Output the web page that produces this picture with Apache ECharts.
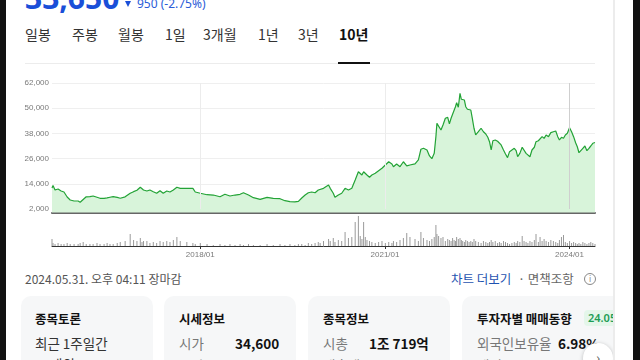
<!DOCTYPE html>
<html><head><meta charset="utf-8">
<script src="https://cdn.jsdelivr.net/npm/echarts@6/dist/echarts.min.js"></script>
<style>
html,body{margin:0;padding:0;width:640px;height:360px;overflow:hidden;background:#fff;font-family:"Noto Sans CJK KR","Noto Sans",sans-serif;}
.a{position:absolute;white-space:nowrap;}
#chart{position:absolute;left:0;top:0;width:640px;height:360px;}
#clip{position:absolute;left:0;top:0;width:613px;height:360px;overflow:hidden;}
.card{position:absolute;top:296px;height:90px;background:#f6f7f8;border-radius:10px;}
.t{font-size:12.5px;font-weight:700;color:#111;line-height:13px;}
.r{font-size:13.5px;line-height:14px;}
.g{color:#777;}
.b{font-weight:700;color:#111;}
</style></head><body>
<div id="clip">
  <div class="a" style="left:25px;top:-17px;font-family:'Noto Sans';font-weight:700;font-size:30px;line-height:30px;color:#1a4fd8;">33,650</div>
  <div class="a" style="left:125px;top:1px;width:0;height:0;border-left:3.5px solid transparent;border-right:3.5px solid transparent;border-top:6px solid #1a4fd8;"></div>
  <div class="a" style="left:137px;top:-2px;font-family:'Noto Sans';font-size:12px;line-height:12px;color:#2a5cd8;">950 (-2.75%)</div>

  <div class="a" style="left:25px;top:27px;font-size:14px;line-height:14px;color:#333;">일봉</div>
  <div class="a" style="left:72px;top:27px;font-size:14px;line-height:14px;color:#333;">주봉</div>
  <div class="a" style="left:118px;top:27px;font-size:14px;line-height:14px;color:#333;">월봉</div>
  <div class="a" style="left:165px;top:27px;font-size:14px;line-height:14px;color:#333;">1일</div>
  <div class="a" style="left:203px;top:27px;font-size:14px;line-height:14px;color:#333;">3개월</div>
  <div class="a" style="left:258px;top:27px;font-size:14px;line-height:14px;color:#333;">1년</div>
  <div class="a" style="left:298px;top:27px;font-size:14px;line-height:14px;color:#333;">3년</div>
  <div class="a" style="left:339px;top:27px;font-size:14px;line-height:14px;color:#111;font-weight:700;">10년</div>
  <div class="a" style="left:25px;top:63px;width:570px;height:1px;background:#ececec;"></div>
  <div class="a" style="left:338px;top:62px;width:32px;height:2px;background:#111;"></div>

  <div class="a" style="left:25px;top:273px;font-size:12px;line-height:12px;color:#555;">2024.05.31. 오후 04:11 장마감</div>
  <div class="a" style="left:451px;top:273px;font-size:12.5px;line-height:12px;color:#1f53b0;">차트 더보기</div>
  <div class="a" style="left:518px;top:273px;font-size:12.5px;line-height:12px;color:#666;">· 면책조항</div>
  <div class="a" style="left:584px;top:273px;width:10px;height:10px;border:1px solid #888;border-radius:50%;font-size:8px;line-height:10px;text-align:center;color:#888;">i</div>

  <div class="card" style="left:21px;width:132px;"></div>
  <div class="card" style="left:164px;width:132px;"></div>
  <div class="card" style="left:308px;width:142px;"></div>
  <div class="card" style="left:462px;width:170px;"></div>

  <div class="a t" style="left:35px;top:312px;">종목토론</div>
  <div class="a r" style="left:35px;top:336px;color:#333;">최근 1주일간</div>
  <div class="a r" style="left:35px;top:357px;color:#333;">57개의</div>

  <div class="a t" style="left:179px;top:312px;">시세정보</div>
  <div class="a r g" style="left:179px;top:336px;">시가</div>
  <div class="a r b" style="left:235px;top:336px;">34,600</div>
  <div class="a r g" style="left:179px;top:358px;">고가</div>
  <div class="a r b" style="left:235px;top:358px;">34,800</div>

  <div class="a t" style="left:323px;top:312px;">종목정보</div>
  <div class="a r g" style="left:323px;top:336px;">시총</div>
  <div class="a r b" style="left:369px;top:336px;">1조 719억</div>
  <div class="a r g" style="left:323px;top:358px;">매출액</div>

  <div class="a t" style="left:477px;top:312px;">투자자별 매매동향</div>
  <div class="a" style="left:584px;top:310px;padding:0 4px;height:16px;border-radius:4px;background:#e4f6ea;color:#1d9d55;font-size:11px;line-height:16px;font-family:'Noto Sans';font-weight:600;">24.05</div>
  <div class="a r g" style="left:477px;top:336px;">외국인보유율</div>
  <div class="a r b" style="left:558px;top:336px;">6.98%</div>
  <div class="a r g" style="left:477px;top:358px;">개인</div>
  <div class="a" style="left:583px;top:343px;width:30px;height:30px;border-radius:50%;background:#fff;box-shadow:0 1px 4px rgba(0,0,0,0.25);font-size:14px;line-height:28px;text-align:center;color:#555;">&#8250;</div>
</div>
<div class="a" style="left:0;top:0;width:6px;height:360px;background:#111;"></div>
<div class="a" style="left:613px;top:0;width:2px;height:360px;background:#ececec;"></div>
<div class="a" style="left:633px;top:0;width:7px;height:360px;background:#111;"></div>
<div id="chart"></div>
<script>
const dates = ['2015-08-05','2015-08-11','2015-08-23','2015-09-10','2015-09-28','2015-10-15','2015-11-03','2015-11-21','2015-12-14','2016-01-07',
'2016-01-19','2016-02-06','2016-02-24','2016-03-17','2016-04-05','2016-04-28','2016-05-16','2016-06-09','2016-06-27','2016-07-14',
'2016-08-02','2016-08-26','2016-09-13','2016-10-12','2016-11-11','2016-12-01','2016-12-21','2017-01-10','2017-01-20','2017-01-29',
'2017-02-18','2017-03-08','2017-03-28','2017-04-17','2017-05-07','2017-05-26','2017-06-16','2017-07-05','2017-07-25','2017-08-15',
'2017-09-04','2017-10-13','2017-11-18','2017-12-02','2018-01-01','2018-02-10','2018-03-19','2018-04-28','2018-05-27','2018-06-26',
'2018-07-26','2018-08-25','2018-09-14','2018-10-14','2018-11-12','2018-12-22','2019-02-01','2019-03-10','2019-04-19','2019-05-18',
'2019-06-17','2019-07-16','2019-08-06','2019-08-26','2019-09-15','2019-10-04','2019-10-24','2019-11-13','2019-12-02','2019-12-13',
'2020-01-02','2020-02-01','2020-02-11','2020-02-29','2020-03-10','2020-03-30','2020-04-19','2020-05-09','2020-05-29','2020-06-18',
'2020-07-08','2020-07-27','2020-08-07','2020-08-17','2020-08-27','2020-09-06','2020-09-16','2020-10-01','2020-10-15','2020-11-04',
'2020-11-24','2020-12-14','2021-01-03','2021-01-23','2021-02-11','2021-02-20','2021-03-11','2021-03-31','2021-04-20','2021-05-10',
'2021-05-29','2021-06-28','2021-07-18','2021-08-02','2021-08-17','2021-09-07','2021-09-22','2021-10-06','2021-10-20','2021-10-30',
'2021-11-05','2021-11-15','2021-11-29','2021-12-11','2021-12-25','2022-01-08','2022-01-18','2022-01-28','2022-02-06','2022-02-15',
'2022-02-23','2022-03-02','2022-03-12','2022-03-22','2022-03-30','2022-04-07','2022-04-17','2022-04-25','2022-05-05','2022-05-15',
'2022-05-25','2022-06-03','2022-06-13','2022-06-23','2022-07-09','2022-07-25','2022-08-08','2022-08-22','2022-09-03','2022-09-13',
'2022-09-23','2022-10-03','2022-10-17','2022-10-31','2022-11-11','2022-11-21','2022-12-05','2022-12-17','2022-12-29','2023-01-10',
'2023-01-24','2023-02-07','2023-02-18','2023-02-27','2023-03-12','2023-03-26','2023-04-06','2023-04-18','2023-04-29','2023-05-11',
'2023-05-23','2023-06-06','2023-06-16','2023-06-30','2023-07-10','2023-07-22','2023-08-03','2023-08-15','2023-08-29','2023-09-12',
'2023-09-27','2023-10-11','2023-10-23','2023-11-02','2023-11-14','2023-11-26','2023-12-07','2023-12-19','2024-01-01','2024-01-13',
'2024-01-25','2024-02-06','2024-02-16','2024-02-26','2024-03-08','2024-03-20','2024-04-01','2024-04-13','2024-04-25','2024-05-06',
'2024-05-18','2024-05-31'];

const prices = [12000,13200,11050,11500,10600,10100,7700,6300,5800,5800,
5200,6500,7800,7900,8200,7600,7100,7100,7300,7600,
7900,7500,7100,7800,9500,10250,10900,12350,11700,11050,
10550,11050,10250,9500,10700,9500,10550,10100,11050,12350,
11850,11850,11850,10100,9500,8800,8650,7850,9000,8200,
8650,9000,9750,8650,7400,6600,7550,7100,6900,5950,
5500,5350,5650,7250,8650,9750,10100,9750,11050,11400,
11850,13450,11850,9500,7550,8650,9500,11850,11050,11850,
15800,19750,20550,18200,19750,20550,18200,17100,18200,19000,
20250,21400,22950,24500,23450,22150,23450,22150,24500,22500,
22950,23450,25350,30450,30900,30100,27250,25950,28500,36450,
42800,42500,39600,42000,45200,45650,42500,45200,47100,46300,
50700,52600,50450,57100,54250,55200,53900,50700,49500,49950,
49150,45200,40450,37250,38800,40450,38800,37700,36150,34050,
30100,34500,34850,34250,34850,32500,30100,28200,26450,29300,
30100,30900,29750,26900,28500,31400,32000,28500,27700,26900,
30100,31400,34050,34500,35200,36450,35650,37250,36450,38350,
38800,39150,36450,34850,36150,35650,37250,38050,40700,38800,
36450,33550,31650,28800,29300,30900,32000,29750,30900,32000,
33300,33650];

const volumes = [7,3,2,3,2,2,3,2,2,2,
3,4,2,2,2,3,2,2,3,2,
2,3,4,5,12,6,5,8,4,5,
5,3,4,3,5,4,5,4,6,9,
5,4,3,2,3,2,1,2,1,2,
1,2,1,2,1,1,2,1,2,1,
2,1,2,2,1,3,2,3,4,3,
5,7,5,8,4,6,5,14,8,9,
24,30,10,7,24,9,6,5,4,3,
4,5,3,4,3,5,4,6,8,13,
9,7,5,14,8,6,5,7,9,21,
12,10,8,9,5,7,6,5,8,6,
5,9,7,8,6,5,4,6,5,4,
5,4,7,5,4,3,5,4,3,4,
6,4,5,3,4,3,5,4,3,2,
3,4,3,5,4,10,5,4,3,5,
4,6,12,4,9,5,7,5,4,6,
5,4,3,6,9,11,4,3,5,3,
4,3,2,3,2,4,3,2,3,4,
3,2];

const yMin = 2000, yMax = 62000, yStep = 12000;
const xLabelDates = ['2018-01-01','2021-01-01','2024-01-01'];
const xStart = '2015-08-05', xEnd = '2024-05-31';

function t(s){const p=s.split('-').map(Number);return new Date(p[0],p[1]-1,p[2]).getTime();}
const tickTimes = xLabelDates.map(t);
const fmtDate = v => {const d=new Date(v);return d.getFullYear()+'/'+String(d.getMonth()+1).padStart(2,'0');};

const chart = echarts.init(document.getElementById('chart'), null, {renderer:'canvas'});
const lineColor = '#23a336';
chart.setOption({
  animation:false,
  grid:[
    {left:52, right:45, top:83, height:126},
    {left:52, right:45, top:216, height:30}
  ],
  xAxis:[
    {type:'value', gridIndex:0, min:t(xStart), max:t(xEnd), offset:3.5,
     axisLine:{show:true, onZero:false, lineStyle:{color:'#666', width:2}},
     axisTick:{show:false}, axisLabel:{show:false}, splitLine:{show:false}},
    {type:'value', gridIndex:1, min:t(xStart), max:t(xEnd),
     axisLine:{show:true, onZero:false, lineStyle:{color:'#333', width:1}},
     axisTick:{show:true, customValues:tickTimes, length:3, lineStyle:{color:'#333'}},
     axisLabel:{show:true, customValues:tickTimes, formatter:fmtDate, fontSize:8, fontFamily:'Liberation Sans', color:'#7a7a7a', margin:5, showMinLabel:true, showMaxLabel:true},
     splitLine:{show:false}}
  ],
  yAxis:[
    {type:'value', gridIndex:0, min:yMin, max:yMax, interval:yStep,
     axisLine:{show:false}, axisTick:{show:false},
     axisLabel:{fontSize:8, fontFamily:'Liberation Sans', color:'#7a7a7a', margin:3, formatter:v=>v.toLocaleString('en-US')},
     splitLine:{show:true, lineStyle:{color:'#efefef', width:1}}},
    {type:'value', gridIndex:1, min:0, max:30, show:false, splitLine:{show:false}}
  ],
  series:[
    {type:'line', xAxisIndex:0, yAxisIndex:0, symbol:'none', clip:false,
     data:dates.map((d,i)=>[t(d), prices[i]]),
     lineStyle:{color:lineColor, width:1.2},
     areaStyle:{color:'#d8f4da', origin:330, opacity:1},
     markLine:{silent:true, symbol:['none','none'], label:{show:false},
       lineStyle:{type:'solid', width:1, color:'#ececec'},
       data:[{xAxis:tickTimes[0]},{xAxis:tickTimes[1]},{xAxis:tickTimes[2], lineStyle:{color:'#cfcfcf', type:'solid', width:1}}]}
    },
    {type:'bar', xAxisIndex:1, yAxisIndex:1, barWidth:1,
     data:dates.map((d,i)=>[t(d), volumes[i]]),
     itemStyle:{color:'#9a9a9a'}}
  ]
});
</script>
</body></html>
